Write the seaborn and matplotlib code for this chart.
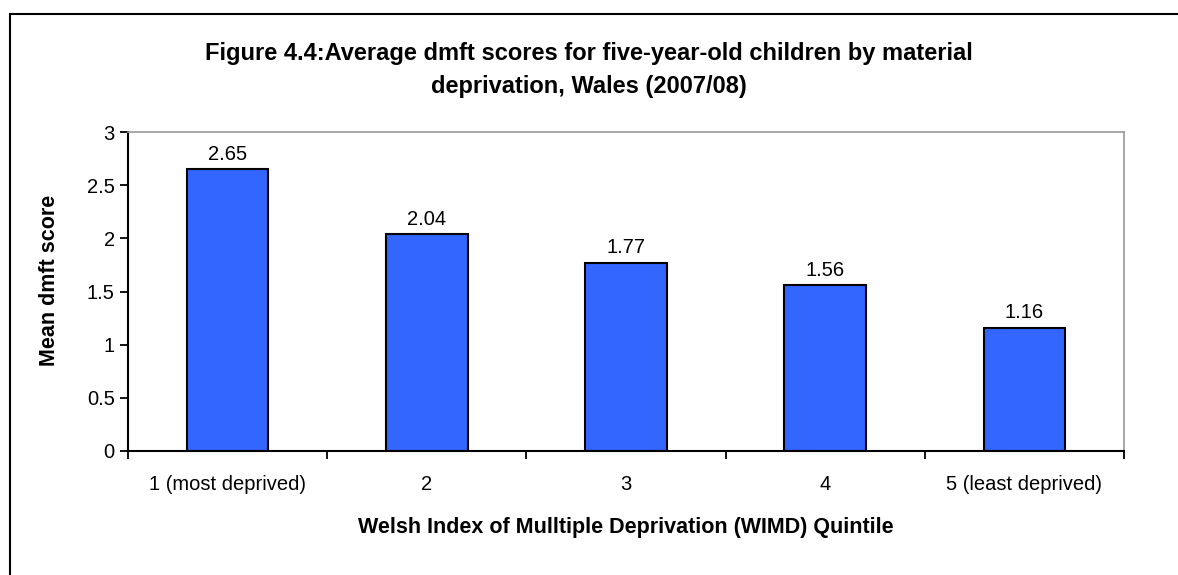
import matplotlib
matplotlib.use("Agg")
import matplotlib.pyplot as plt
import seaborn as sns
import pandas as pd
from matplotlib.patches import Rectangle

# data
quintiles = ["1 (most deprived)", "2", "3", "4", "5 (least deprived)"]
mean_dmft = [2.65, 2.04, 1.77, 1.56, 1.16]
value_labels = ["2.65", "2.04", "1.77", "1.56", "1.16"]
y_ticks = [0, 0.5, 1, 1.5, 2, 2.5, 3]
y_tick_labels = ["0", "0.5", "1", "1.5", "2", "2.5", "3"]

sns.set_style("white")
plt.rcParams["font.family"] = ["Liberation Sans", "DejaVu Sans"]
plt.rcParams["text.color"] = "black"
plt.rcParams["axes.labelcolor"] = "black"
plt.rcParams["xtick.color"] = "black"
plt.rcParams["ytick.color"] = "black"

df = pd.DataFrame({"quintile": quintiles, "score": mean_dmft})

W, H = 1178, 575
fig = plt.figure(figsize=(W / 100, H / 100), dpi=100)
ax = fig.add_axes([128 / W, 1 - 451 / H, 996 / W, 319 / H])

sns.barplot(data=df, x="quintile", y="score", color="#3366FF", saturation=1,
            width=0.41, edgecolor="black", linewidth=1.5, ax=ax)

for i, (v, lab) in enumerate(zip(mean_dmft, value_labels)):
    ax.text(i, v + 0.05, lab, ha="center", va="bottom", fontsize=14.5)

ax.set_xlim(-0.5, len(quintiles) - 0.5)
ax.set_ylim(0, 3)
ax.set_yticks(y_ticks)
ax.set_yticklabels(y_tick_labels, fontsize=14.5)
ax.set_xticks(range(len(quintiles)))
ax.set_xticklabels(quintiles, fontsize=14.5)
# boundary ticks between categories, as in Excel
ax.set_xticks([b - 0.5 for b in range(len(quintiles) + 1)], minor=True)
ax.tick_params(axis="x", which="major", bottom=True, length=0, pad=17)
ax.tick_params(axis="x", which="minor", bottom=True, length=5.5, width=1.3)
ax.tick_params(axis="y", left=True, length=5.5, width=1.3, pad=4)

for s in ["top", "right"]:
    ax.spines[s].set_color("#999999")
    ax.spines[s].set_linewidth(1.2)
for s in ["left", "bottom"]:
    ax.spines[s].set_color("black")
    ax.spines[s].set_linewidth(1.5)

ax.set_xlabel("Welsh Index of Mulltiple Deprivation (WIMD) Quintile",
              fontsize=15.5, fontweight="bold")
ax.xaxis.set_label_coords(0.5, -(527 - 451) / 319, transform=ax.transAxes)
ax.xaxis.label.set_va("center")
ax.set_ylabel("Mean dmft score", fontsize=15.5, fontweight="bold")
ax.yaxis.set_label_coords(-(128 - 50) / 996, (451 - 280) / 319, transform=ax.transAxes)
ax.yaxis.label.set_va("center")

fig.text(0.5, 1 - 70 / H,
         "Figure 4.4:Average dmft scores for five-year-old children by material\ndeprivation, Wales (2007/08)",
         ha="center", va="center", fontsize=17, fontweight="bold", linespacing=1.6)

# chart area border (right/bottom edges fall outside the image)
fig.patches.append(Rectangle((10 / W, -0.05), 1.2, 1 - 14 / H + 0.05,
                             transform=fig.transFigure, fill=False,
                             edgecolor="black", linewidth=1.5))

fig.savefig("out.png", dpi=100)
